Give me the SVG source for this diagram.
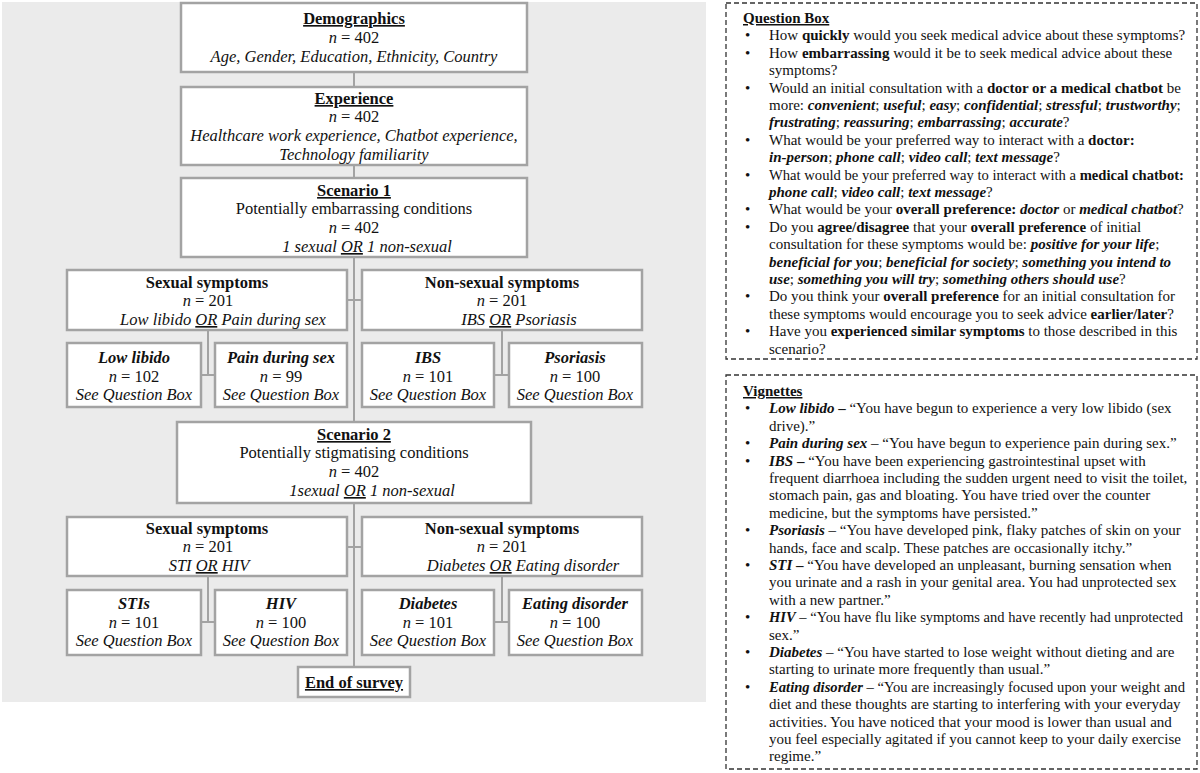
<svg xmlns="http://www.w3.org/2000/svg" width="1200" height="773" viewBox="0 0 1200 773">
<style>
text{font-family:"Liberation Serif","Times New Roman",serif;fill:#111}
.l{font-size:16.5px;text-anchor:middle}
.r{font-size:15px}
.b{font-weight:bold}
.i{font-style:italic}
.bi{font-weight:bold;font-style:italic}
.u{text-decoration:underline}
.box{fill:#fff;stroke:#a3a3a3;stroke-width:2.5}
.con{stroke:#a3a3a3;stroke-width:2;fill:none}
.dash{fill:#fff;stroke:#333;stroke-width:1.3;stroke-dasharray:5 3}
</style>
<rect x="2" y="2" width="704" height="700" fill="#ebebeb"/>
<g id="connectors">
<path class="con" d="M354 72V667M347 300H362M347 547H362M208 330V375M200 375H215M502 330V375M494 375H509M208 576V622M200 622H215M502 576V622M494 622H509"/>
</g>
<g id="demographics">
<rect class="box" x="181" y="3" width="346" height="69"/>
<text class="l" x="354" y="24"><tspan class="b u">Demographics</tspan></text>
<text class="l" x="354" y="43"><tspan class="i">n</tspan> = 402</text>
<text class="l i" x="354" y="62">Age, Gender, Education, Ethnicity, Country</text>
</g>
<g id="experience">
<rect class="box" x="181" y="87" width="346" height="78"/>
<text class="l" x="354" y="104"><tspan class="b u">Experience</tspan></text>
<text class="l" x="354" y="122"><tspan class="i">n</tspan> = 402</text>
<text class="l i" x="354" y="141">Healthcare work experience, Chatbot experience,</text>
<text class="l i" x="354" y="160">Technology familiarity</text>
</g>
<g id="scenario1">
<rect class="box" x="181" y="178" width="346" height="79"/>
<text class="l" x="354" y="196"><tspan class="b u">Scenario 1</tspan></text>
<text class="l" x="354" y="214">Potentially embarrassing conditions</text>
<text class="l" x="354" y="233"><tspan class="i">n</tspan> = 402</text>
<text class="l i" x="367" y="252">1 sexual <tspan class="u">OR</tspan> 1 non-sexual</text>
</g>
<g id="s1-sexual">
<rect class="box" x="67" y="270" width="280" height="60"/>
<text class="l b" x="207" y="288">Sexual symptoms</text>
<text class="l" x="208" y="306"><tspan class="i">n</tspan> = 201</text>
<text class="l i" x="223" y="325">Low libido <tspan class="u">OR</tspan> Pain during sex</text>
</g>
<g id="s1-nonsexual">
<rect class="box" x="362" y="270" width="280" height="60"/>
<text class="l b" x="502" y="288">Non-sexual symptoms</text>
<text class="l" x="502" y="306"><tspan class="i">n</tspan> = 201</text>
<text class="l i" x="519" y="325">IBS <tspan class="u">OR</tspan> Psoriasis</text>
</g>
<g id="low-libido">
<rect class="box" x="67" y="343" width="134" height="64"/>
<text class="l bi" x="134" y="363">Low libido</text>
<text class="l" x="134" y="382"><tspan class="i">n</tspan> = 102</text>
<text class="l i" x="134" y="400">See Question Box</text>
</g>
<g id="pain-during-sex">
<rect class="box" x="215" y="343" width="132" height="64"/>
<text class="l bi" x="281" y="363">Pain during sex</text>
<text class="l" x="281" y="382"><tspan class="i">n</tspan> = 99</text>
<text class="l i" x="281" y="400">See Question Box</text>
</g>
<g id="ibs">
<rect class="box" x="362" y="343" width="132" height="64"/>
<text class="l bi" x="428" y="363">IBS</text>
<text class="l" x="428" y="382"><tspan class="i">n</tspan> = 101</text>
<text class="l i" x="428" y="400">See Question Box</text>
</g>
<g id="psoriasis">
<rect class="box" x="509" y="343" width="133" height="64"/>
<text class="l bi" x="575" y="363">Psoriasis</text>
<text class="l" x="575" y="382"><tspan class="i">n</tspan> = 100</text>
<text class="l i" x="575" y="400">See Question Box</text>
</g>
<g id="scenario2">
<rect class="box" x="177" y="422" width="354" height="81"/>
<text class="l" x="354" y="440"><tspan class="b u">Scenario 2</tspan></text>
<text class="l" x="354" y="458">Potentially stigmatising conditions</text>
<text class="l" x="354" y="477"><tspan class="i">n</tspan> = 402</text>
<text class="l i" x="372" y="496">1sexual <tspan class="u">OR</tspan> 1 non-sexual</text>
</g>
<g id="s2-sexual">
<rect class="box" x="67" y="517" width="280" height="59"/>
<text class="l b" x="207" y="534">Sexual symptoms</text>
<text class="l" x="208" y="552"><tspan class="i">n</tspan> = 201</text>
<text class="l i" x="209" y="571">STI <tspan class="u">OR</tspan> HIV</text>
</g>
<g id="s2-nonsexual">
<rect class="box" x="362" y="517" width="280" height="59"/>
<text class="l b" x="502" y="534">Non-sexual symptoms</text>
<text class="l" x="502" y="552"><tspan class="i">n</tspan> = 201</text>
<text class="l i" x="523" y="571">Diabetes <tspan class="u">OR</tspan> Eating disorder</text>
</g>
<g id="stis">
<rect class="box" x="67" y="590" width="134" height="65"/>
<text class="l bi" x="134" y="609">STIs</text>
<text class="l" x="134" y="628"><tspan class="i">n</tspan> = 101</text>
<text class="l i" x="134" y="646">See Question Box</text>
</g>
<g id="hiv">
<rect class="box" x="215" y="590" width="132" height="65"/>
<text class="l bi" x="281" y="609">HIV</text>
<text class="l" x="281" y="628"><tspan class="i">n</tspan> = 100</text>
<text class="l i" x="281" y="646">See Question Box</text>
</g>
<g id="diabetes">
<rect class="box" x="362" y="590" width="132" height="65"/>
<text class="l bi" x="428" y="609">Diabetes</text>
<text class="l" x="428" y="628"><tspan class="i">n</tspan> = 101</text>
<text class="l i" x="428" y="646">See Question Box</text>
</g>
<g id="eating-disorder">
<rect class="box" x="509" y="590" width="133" height="65"/>
<text class="l bi" x="575" y="609">Eating disorder</text>
<text class="l" x="575" y="628"><tspan class="i">n</tspan> = 100</text>
<text class="l i" x="575" y="646">See Question Box</text>
</g>
<g id="end-of-survey">
<rect class="box" x="298" y="667" width="112" height="30"/>
<text class="l" x="354" y="688"><tspan class="b u">End of survey</tspan></text>
</g>
<g id="question-box">
<rect class="dash" x="726" y="3" width="471" height="356"/>
<g class="r">
<text x="743" y="23"><tspan class="b u">Question Box</tspan></text>
<text x="745" y="40.4">•</text><text x="769" y="40.4">How <tspan class="b">quickly</tspan> would you seek medical advice about these symptoms?</text>
<text x="745" y="57.8">•</text><text x="769" y="57.8">How <tspan class="b">embarrassing</tspan> would it be to seek medical advice about these</text>
<text x="769" y="75.2">symptoms?</text>
<text x="745" y="92.6">•</text><text x="769" y="92.6">Would an initial consultation with a <tspan class="b">doctor or a medical chatbot</tspan> be</text>
<text x="769" y="110">more: <tspan class="bi">convenient</tspan>; <tspan class="bi">useful</tspan>; <tspan class="bi">easy</tspan>; <tspan class="bi">confidential</tspan>; <tspan class="bi">stressful</tspan>; <tspan class="bi">trustworthy</tspan>;</text>
<text x="769" y="127.4"><tspan class="bi">frustrating</tspan>; <tspan class="bi">reassuring</tspan>; <tspan class="bi">embarrassing</tspan>; <tspan class="bi">accurate</tspan>?</text>
<text x="745" y="144.8">•</text><text x="769" y="144.8">What would be your preferred way to interact with a <tspan class="b">doctor:</tspan></text>
<text x="769" y="162.2"><tspan class="bi">in-person</tspan>; <tspan class="bi">phone call</tspan>; <tspan class="bi">video call</tspan>; <tspan class="bi">text message</tspan>?</text>
<text x="745" y="179.6">•</text><text x="769" y="179.6" textLength="415" lengthAdjust="spacingAndGlyphs">What would be your preferred way to interact with a <tspan class="b">medical chatbot:</tspan></text>
<text x="769" y="197"><tspan class="bi">phone call</tspan>; <tspan class="bi">video call</tspan>; <tspan class="bi">text message</tspan>?</text>
<text x="745" y="214.4">•</text><text x="769" y="214.4">What would be your <tspan class="b">overall preference:</tspan> <tspan class="bi">doctor</tspan> or <tspan class="bi">medical chatbot</tspan>?</text>
<text x="745" y="231.8">•</text><text x="769" y="231.8">Do you <tspan class="b">agree/disagree</tspan> that your <tspan class="b">overall preference</tspan> of initial</text>
<text x="769" y="249.2">consultation for these symptoms would be: <tspan class="bi">positive for your life</tspan>;</text>
<text x="769" y="266.6"><tspan class="bi">beneficial for you</tspan>; <tspan class="bi">beneficial for society</tspan>; <tspan class="bi">something you intend to</tspan></text>
<text x="769" y="284"><tspan class="bi">use</tspan>; <tspan class="bi">something you will try</tspan>; <tspan class="bi">something others should use</tspan>?</text>
<text x="745" y="301.4">•</text><text x="769" y="301.4">Do you think your <tspan class="b">overall preference</tspan> for an initial consultation for</text>
<text x="769" y="318.8">these symptoms would encourage you to seek advice <tspan class="b">earlier/later</tspan>?</text>
<text x="745" y="336.2">•</text><text x="769" y="336.2">Have you <tspan class="b">experienced similar symptoms</tspan> to those described in this</text>
<text x="769" y="353.6">scenario?</text>
</g>
</g>
<g id="vignettes">
<rect class="dash" x="726" y="375" width="471" height="394"/>
<g class="r">
<text x="743" y="396"><tspan class="b u">Vignettes</tspan></text>
<text x="745" y="413.4">•</text><text x="769" y="413.4"><tspan class="bi">Low libido</tspan><tspan class="b"> –</tspan> “You have begun to experience a very low libido (sex</text>
<text x="769" y="430.8">drive).”</text>
<text x="745" y="448.2">•</text><text x="769" y="448.2"><tspan class="bi">Pain during sex</tspan> – “You have begun to experience pain during sex.”</text>
<text x="745" y="465.6">•</text><text x="769" y="465.6"><tspan class="bi">IBS</tspan><tspan class="b"> –</tspan> “You have been experiencing gastrointestinal upset with</text>
<text x="769" y="483">frequent diarrhoea including the sudden urgent need to visit the toilet,</text>
<text x="769" y="500.4">stomach pain, gas and bloating. You have tried over the counter</text>
<text x="769" y="517.8">medicine, but the symptoms have persisted.”</text>
<text x="745" y="535.2">•</text><text x="769" y="535.2"><tspan class="bi">Psoriasis</tspan> – “You have developed pink, flaky patches of skin on your</text>
<text x="769" y="552.6">hands, face and scalp. These patches are occasionally itchy.”</text>
<text x="745" y="570">•</text><text x="769" y="570"><tspan class="bi">STI</tspan><tspan class="b"> –</tspan> “You have developed an unpleasant, burning sensation when</text>
<text x="769" y="587.4">you urinate and a rash in your genital area. You had unprotected sex</text>
<text x="769" y="604.8">with a new partner.”</text>
<text x="745" y="622.2">•</text><text x="769" y="622.2" textLength="414" lengthAdjust="spacingAndGlyphs"><tspan class="bi">HIV</tspan> – “You have flu like symptoms and have recently had unprotected</text>
<text x="769" y="639.6">sex.”</text>
<text x="745" y="657">•</text><text x="769" y="657"><tspan class="bi">Diabetes</tspan> – “You have started to lose weight without dieting and are</text>
<text x="769" y="674.4">starting to urinate more frequently than usual.”</text>
<text x="745" y="691.8">•</text><text x="769" y="691.8" textLength="416" lengthAdjust="spacingAndGlyphs"><tspan class="bi">Eating disorder</tspan> – “You are increasingly focused upon your weight and</text>
<text x="769" y="709.2">diet and these thoughts are starting to interfering with your everyday</text>
<text x="769" y="726.6">activities. You have noticed that your mood is lower than usual and</text>
<text x="769" y="744">you feel especially agitated if you cannot keep to your daily exercise</text>
<text x="769" y="761.4">regime.”</text>
</g>
</g>
</svg>
